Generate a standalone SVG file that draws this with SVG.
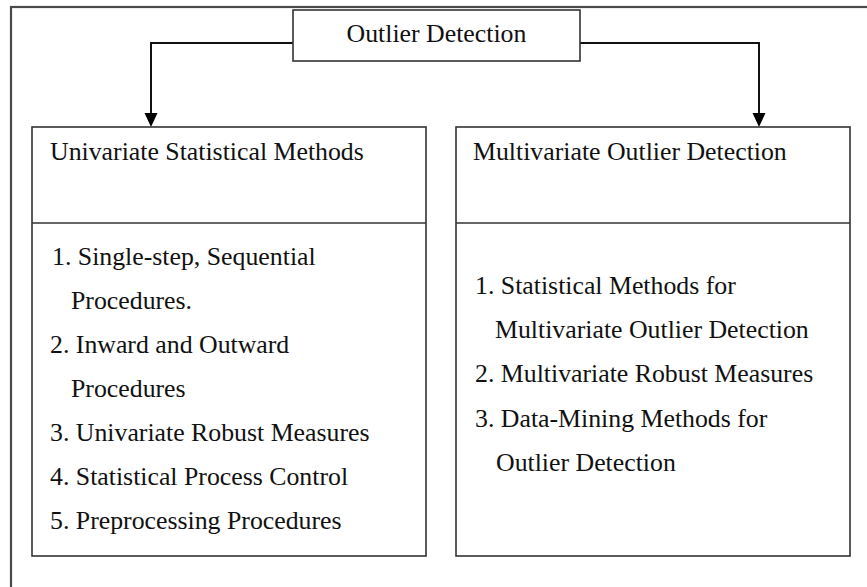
<svg xmlns="http://www.w3.org/2000/svg" width="867" height="587" viewBox="0 0 867 587">
<style>
.box{fill:#fff;stroke:#333;stroke-width:1.6}
.frame{fill:#fff;stroke:#4a4a4a;stroke-width:2.2}
.conn{fill:none;stroke:#111;stroke-width:2}
text{font-family:"Liberation Serif","Times New Roman",serif;font-size:25.8px;fill:#111}
</style>
<defs>
<marker id="arr" markerUnits="userSpaceOnUse" markerWidth="14" markerHeight="14" viewBox="0 0 14 14" refX="7" refY="14" orient="auto-start-reverse">
<path d="M0,0 L14,0 L7,14 Z" fill="#000"/>
</marker>
</defs>
<rect class="frame" x="11" y="7" width="880" height="600"/>
<g id="connectors">
<path class="conn" d="M293,43 H151 V113"/>
<path d="M144.5,113 L157.5,113 L151,127 Z" fill="#000"/>
<path class="conn" d="M580,43 H759 V113"/>
<path d="M752.5,113 L765.5,113 L759,127 Z" fill="#000"/>
</g>
<g id="outlier-detection">
<rect class="box" x="293" y="10" width="287" height="51"/>
<text x="436.5" y="42" text-anchor="middle">Outlier Detection</text>
</g>
<g id="univariate">
<rect class="box" x="32" y="127" width="394" height="429"/>
<line class="box" x1="32" y1="223" x2="426" y2="223"/>
<text x="50" y="160">Univariate Statistical Methods</text>
<text x="52" y="265">1. Single-step, Sequential</text>
<text x="71" y="309">Procedures.</text>
<text x="50" y="353">2. Inward and Outward</text>
<text x="71" y="397">Procedures</text>
<text x="50" y="441">3. Univariate Robust Measures</text>
<text x="50" y="485">4. Statistical Process Control</text>
<text x="50" y="529">5. Preprocessing Procedures</text>
</g>
<g id="multivariate">
<rect class="box" x="456" y="127" width="394" height="429"/>
<line class="box" x1="456" y1="223" x2="850" y2="223"/>
<text x="473" y="160">Multivariate Outlier Detection</text>
<text x="475" y="294">1. Statistical Methods for</text>
<text x="495" y="338">Multivariate Outlier Detection</text>
<text x="475" y="382">2. Multivariate Robust Measures</text>
<text x="475" y="427">3. Data-Mining Methods for</text>
<text x="496" y="471">Outlier Detection</text>
</g>
</svg>
